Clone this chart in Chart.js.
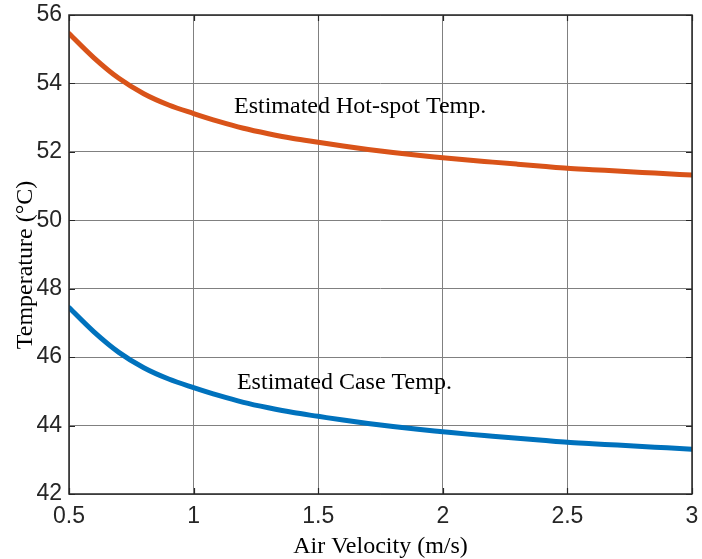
<!DOCTYPE html>
<html lang="en">
<head>
<meta charset="UTF-8">
<title>Temperature vs Air Velocity</title>
<script src="https://cdn.jsdelivr.net/npm/chart.js"></script>
<style>
  * { margin: 0; padding: 0; }
  body { background: #ffffff; }
  .chartBox { width: 702px; height: 559px; }
</style>
</head>
<body>
<div class="chartBox">
  <canvas id="myChart" width="702" height="559"></canvas>
</div>
<script>
// data
const velocity = [0.5, 0.6, 0.7, 0.8, 0.9, 1.0, 1.1, 1.2, 1.3, 1.4, 1.5, 1.6, 1.7,
                  1.8, 1.9, 2.0, 2.1, 2.2, 2.3, 2.4, 2.5, 2.6, 2.7, 2.8, 2.9, 3.0];
const hotspotTemp = [55.46, 54.75, 54.15, 53.70, 53.37, 53.12, 52.89, 52.69, 52.53, 52.39,
                     52.28, 52.17, 52.07, 51.98, 51.90, 51.83, 51.76, 51.70, 51.64, 51.58,
                     51.52, 51.48, 51.44, 51.40, 51.36, 51.32];
const caseTemp = [47.45, 46.74, 46.14, 45.69, 45.36, 45.11, 44.88, 44.68, 44.52, 44.38,
                  44.27, 44.16, 44.06, 43.97, 43.89, 43.82, 43.75, 43.69, 43.63, 43.57,
                  43.51, 43.47, 43.43, 43.39, 43.35, 43.31];
const xTicks = [0.5, 1, 1.5, 2, 2.5, 3];
const yTicks = [42, 44, 46, 48, 50, 52, 54, 56];

const hotLabel = 'Estimated Hot-spot Temp.';
const caseLabel = 'Estimated Case Temp.';
const xTitle = 'Air Velocity (m/s)';
const yTitle = 'Temperature (\u00B0C)';

const toPoints = (xs, ys) => xs.map((x, i) => ({ x: x, y: ys[i] }));

// titles, text labels, box and inward ticks
const extras = {
  id: 'extras',
  afterDraw(chart) {
    const ctx = chart.ctx;
    const a = chart.chartArea;
    const xs = chart.scales.x, ys = chart.scales.y;
    ctx.save();
    ctx.strokeStyle = '#262626';
    ctx.lineWidth = 1.2;
    // inward ticks
    ctx.beginPath();
    xTicks.forEach(v => {
      const px = Math.round(xs.getPixelForValue(v)) + 0.5;
      ctx.moveTo(px, a.bottom); ctx.lineTo(px, a.bottom - 6);
      ctx.moveTo(px, a.top); ctx.lineTo(px, a.top + 6);
    });
    yTicks.forEach(v => {
      const py = Math.round(ys.getPixelForValue(v)) + 0.5;
      ctx.moveTo(a.left, py); ctx.lineTo(a.left + 6, py);
      ctx.moveTo(a.right, py); ctx.lineTo(a.right - 6, py);
    });
    ctx.stroke();
    // box
    ctx.lineWidth = 1.5;
    ctx.strokeRect(a.left, a.top, a.right - a.left, a.bottom - a.top);

    ctx.fillStyle = '#000000';
    ctx.font = '24px "Liberation Serif", "Times New Roman", serif';
    ctx.textBaseline = 'alphabetic';
    ctx.textAlign = 'left';
    ctx.fillText(hotLabel, xs.getPixelForValue(1.162), ys.getPixelForValue(53.13));
    ctx.fillText(caseLabel, xs.getPixelForValue(1.174), ys.getPixelForValue(45.08));

    ctx.textAlign = 'center';
    ctx.fillText(xTitle, (a.left + a.right) / 2, 553);
    ctx.translate(32, 265);
    ctx.rotate(-Math.PI / 2);
    ctx.fillText(yTitle, 0, 0);
    ctx.restore();
  }
};

const data = {
  datasets: [
    {
      label: hotLabel,
      data: toPoints(velocity, hotspotTemp),
      borderColor: '#D95319',
      borderWidth: 5,
      pointRadius: 0,
      cubicInterpolationMode: 'monotone',
      borderCapStyle: 'round'
    },
    {
      label: caseLabel,
      data: toPoints(velocity, caseTemp),
      borderColor: '#0072BD',
      borderWidth: 5,
      pointRadius: 0,
      cubicInterpolationMode: 'monotone',
      borderCapStyle: 'round'
    }
  ]
};

const tickFont = { family: '"Liberation Sans", Arial, sans-serif', size: 23 };

const config = {
  type: 'line',
  data,
  options: {
    responsive: false,
    animation: false,
    layout: { padding: { top: 15, right: 10, left: 0, bottom: 0 } },
    plugins: { legend: { display: false }, tooltip: { enabled: false } },
    scales: {
      x: {
        type: 'linear',
        min: 0.5,
        max: 3,
        afterBuildTicks: s => { s.ticks = xTicks.map(v => ({ value: v })); },
        afterFit: s => { s.height = 65; s.paddingLeft = 0; s.paddingRight = 0; },
        ticks: { font: tickFont, color: '#262626', padding: 9, maxRotation: 0,
                 callback: v => String(v) },
        grid: { color: '#808080', lineWidth: 1, drawTicks: false },
        border: { display: false }
      },
      y: {
        min: 42,
        max: 56,
        afterBuildTicks: s => { s.ticks = yTicks.map(v => ({ value: v })); },
        afterFit: s => { s.width = 69; s.paddingTop = 0; s.paddingBottom = 0; },
        ticks: { font: tickFont, color: '#262626', padding: 7 },
        grid: { color: '#808080', lineWidth: 1, drawTicks: false },
        border: { display: false }
      }
    }
  },
  plugins: [extras]
};

const myChart = new Chart(document.getElementById('myChart'), config);
</script>
</body>
</html>
